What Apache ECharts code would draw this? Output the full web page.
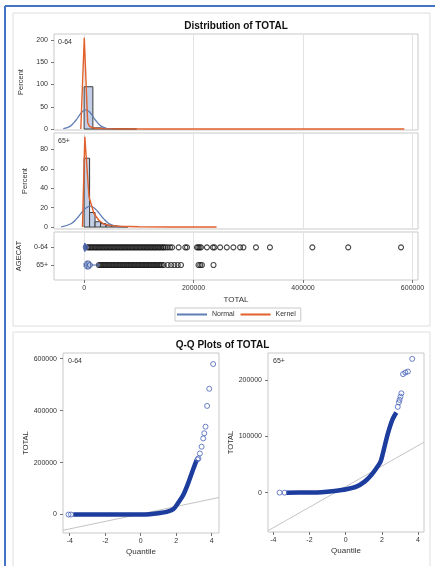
<!DOCTYPE html>
<html><head><meta charset="utf-8">
<script src="https://cdn.jsdelivr.net/npm/echarts@6/dist/echarts.min.js"></script>
<style>html,body{margin:0;padding:0;background:#fff;}#c{width:435px;height:566px;}</style>
</head><body><div id="c"></div>
<script>
// ---------- data ----------
const ageCats = ['0-64', '65+'];
const xTicksTotal = [0, 200000, 400000, 600000];
const yTicksPct064 = [0, 50, 100, 150, 200];
const yTicksPct65 = [0, 20, 40, 60, 80];
const qTicks = [-4, -2, 0, 2, 4];
const yTicksQQ064 = [0, 200000, 400000, 600000];
const yTicksQQ65 = [0, 100000, 200000];

// histogram (percent per bin)
const binEdges064 = [0, 16000, 32000, 48000, 64000, 80000, 96000];
const pct064 = [95, 2.6, 1.0, 0.5, 0.3, 0.2];
const binEdges65 = [0, 10000, 20000, 30000, 40000, 50000, 60000, 70000, 80000];
const pct65 = [71, 15, 5.5, 3.5, 2, 1.2, 0.7, 0.4];

// fitted normal curves (TOTAL, percent)
const normal064 = [[-38000,0.8],[-25000,6.5],[-15000,19.7],[-8000,32],[-3000,39.4],[3000,43],[9000,39.4],[14000,32],[21000,19.7],[31000,6.5],[42000,1.1],[52000,0.1]];
const normal65 = [[-42000,0.3],[-24000,3.4],[-14000,8.4],[-5000,14.6],[3000,19.5],[11000,21.5],[19000,19.5],[27000,14.6],[36000,8.4],[46000,3.4],[61000,0.5],[70000,0.1]];

// kernel density curves (TOTAL, percent)
const kernel064 = [[-6000,0],[300,205],[6500,14],[10000,6],[15000,3],[22000,1.6],[35000,0.8],[60000,0.4],[120000,0.2],[250000,0.1],[585000,0]];
const kernel65 = [[-3000,0],[1300,93],[9000,31],[18000,14],[27000,7],[36000,3],[50000,1.5],[65000,0.8],[100000,0.3],[160000,0.1],[242000,0]];

// box plot stats: [min, Q1, median, Q3, whisker max, mean]
const box064 = [0, 300, 1000, 2500, 5800, 2900];
const box65 = [0, 1500, 5000, 12000, 26000, 10600];

// outliers
const outliers064 = [6000,8500,11000,13500,16000,18500,21000,23500,26000,28500,31000,33500,36000,38500,41000,43500,46000,48500,51000,53500,56000,58500,61000,63500,66000,68500,71000,73500,76000,78500,81000,83500,86000,88500,91000,93500,96000,98500,101000,103500,106000,108500,111000,113500,116000,118500,121000,123500,126000,128500,131000,133500,136000,138500,141000,144000,145500,149000,152700,157000,160700,172700,184900,188000,206200,208500,211000,213500,224400,235300,238200,248500,260700,272700,285000,291000,314000,339500,417000,482500,579000];
const outliers65 = [27000,29500,32000,34500,37000,39500,42000,44500,47000,49500,52000,54500,57000,59500,62000,64500,67000,69500,72000,74500,77000,79500,82000,84500,87000,89500,92000,94500,97000,99500,102000,104500,107000,109500,112000,114500,117000,119500,122000,124500,127000,129500,132000,134500,137000,139500,142000,145500,152700,158900,164900,171000,177000,209100,212200,215200,236400];

// Q-Q plots: [normal quantile, TOTAL]
const qqDense064 = [[-3.8,0],[-2,0],[0,500],[0.5,1500],[1.0,5000],[1.46,10000],[1.83,20000],[2.11,45000],[2.4,76000],[2.68,122000],[2.96,175000],[3.15,210000]];
const qqSparse064 = [[-4.07,0],[-3.93,0],[3.2,212000],[3.25,216000],[3.33,235000],[3.43,261000],[3.52,293000],[3.58,312700],[3.65,338000],[3.74,418000],[3.86,484000],[4.08,579000]];
const qqRef064 = [[-4.38,-60600],[4.41,65600]];
const qqDense65 = [[-3.28,0],[-2,200],[-1.34,700],[-0.61,3000],[0.04,6000],[0.59,10600],[1.05,19500],[1.42,31400],[1.7,43300],[1.93,55000],[2.06,69900],[2.34,105300],[2.58,129000],[2.8,142000]];
const qqSparse65 = [[-3.65,0],[-3.37,0],[2.88,152000],[2.94,160000],[2.98,164400],[3.03,170000],[3.08,176000],[3.17,210000],[3.3,212800],[3.44,214500],[3.68,237000]];
const qqRef65 = [[-4.29,-67400],[4.33,89400]];

// ---------- styles ----------
const FONT = "'Liberation Sans', Arial, sans-serif";
const TXT = '#333';
const NORMAL_C = '#5f7db4';
const KERNEL_C = '#e2602c';
const BAR_FILL = '#c2cfe6';
const BAR_LINE = '#3b3b3b';
const QQ_DARK = '#1c3c9e';
const QQ_PT = '#4661b8';

const chart = echarts.init(document.getElementById('c'), null, {renderer: 'canvas'});

function histData(edges, pct) { return pct.map((p, i) => [edges[i], edges[i + 1], p]); }
function renderBar(params, api) {
  const p0 = api.coord([api.value(0), 0]);
  const p1 = api.coord([api.value(1), api.value(2)]);
  return {type: 'rect', shape: {x: p0[0], y: p1[1], width: p1[0] - p0[0], height: p0[1] - p1[1]},
    style: {fill: BAR_FILL, stroke: BAR_LINE, lineWidth: 1}};
}
function renderBox(params, api) {
  const c = api.value(0);
  const P = k => api.coord([api.value(k), c]);
  const pMin = P(1), pQ1 = P(2), pMed = P(3), pQ3 = P(4), pMax = P(5), pMean = P(6);
  const h = 4, st = {stroke: '#4a64a8', lineWidth: 1};
  return {type: 'group', children: [
    {type: 'line', shape: {x1: pMin[0], y1: pMin[1], x2: pQ1[0], y2: pQ1[1]}, style: st},
    {type: 'line', shape: {x1: pQ3[0], y1: pQ3[1], x2: pMax[0], y2: pMax[1]}, style: st},
    {type: 'line', shape: {x1: pMin[0], y1: pMin[1] - 2, x2: pMin[0], y2: pMin[1] + 2}, style: st},
    {type: 'line', shape: {x1: pMax[0], y1: pMax[1] - 2, x2: pMax[0], y2: pMax[1] + 2}, style: st},
    {type: 'rect', shape: {x: pQ1[0], y: pQ1[1] - h, width: Math.max(pQ3[0] - pQ1[0], 1), height: 2 * h, r: 2},
      style: {fill: '#b9c7e4', stroke: '#4a64a8', lineWidth: 1}},
    {type: 'line', shape: {x1: pMed[0], y1: pMed[1] - h, x2: pMed[0], y2: pMed[1] + h}, style: st},
    {type: 'circle', shape: {cx: pMean[0], cy: pMean[1], r: 2.5}, style: {fill: 'none', stroke: '#4a64a8', lineWidth: 1}}
  ]};
}

const lab = {fontSize: 7, color: TXT, fontFamily: FONT};
const tick = {show: true, length: 3, lineStyle: {color: '#777'}};
const noLine = {show: false, onZero: false};
const fmtNum = v => String(v);

function gridBox(l, t, w, h) {
  return {left: l, top: t, width: w, height: h, show: true, borderColor: '#c9c9c9', borderWidth: 1, backgroundColor: '#fff', containLabel: false};
}

const totalAxisBase = {type: 'value', min: -55000, max: 610000, axisLine: noLine,
  splitLine: {show: true, lineStyle: {color: '#e3e3e3', width: 1}}};

const option = {
  animation: false,
  textStyle: {fontFamily: FONT},
  grid: [
    gridBox(54, 34, 364, 96),
    gridBox(54, 133, 364, 96),
    gridBox(54, 232, 364, 48),
    gridBox(63, 353, 156, 180),
    gridBox(268, 353, 156, 179)
  ],
  xAxis: [
    Object.assign({}, totalAxisBase, {gridIndex: 0, axisLabel: {show: false, customValues: xTicksTotal}, axisTick: {show: false, customValues: xTicksTotal}}),
    Object.assign({}, totalAxisBase, {gridIndex: 1, axisLabel: {show: false, customValues: xTicksTotal}, axisTick: {show: false, customValues: xTicksTotal}}),
    Object.assign({}, totalAxisBase, {gridIndex: 2, axisLabel: Object.assign({customValues: xTicksTotal, margin: 5, formatter: fmtNum}, lab),
      axisTick: Object.assign({customValues: xTicksTotal}, tick),
      name: 'TOTAL', nameLocation: 'middle', nameGap: 16, nameTextStyle: {fontSize: 8, color: TXT, fontFamily: FONT}}),
    {type: 'value', gridIndex: 3, min: -4.38, max: 4.41, axisLine: noLine, splitLine: {show: false},
      axisLabel: Object.assign({customValues: qTicks, margin: 5, formatter: fmtNum}, lab), axisTick: Object.assign({customValues: qTicks}, tick),
      name: 'Quantile', nameLocation: 'middle', nameGap: 15, nameTextStyle: {fontSize: 8, color: TXT, fontFamily: FONT}},
    {type: 'value', gridIndex: 4, min: -4.29, max: 4.33, axisLine: noLine, splitLine: {show: false},
      axisLabel: Object.assign({customValues: qTicks, margin: 5, formatter: fmtNum}, lab), axisTick: Object.assign({customValues: qTicks}, tick),
      name: 'Quantile', nameLocation: 'middle', nameGap: 15, nameTextStyle: {fontSize: 8, color: TXT, fontFamily: FONT}}
  ],
  yAxis: [
    {type: 'value', gridIndex: 0, min: -2.2, max: 213.5, axisLine: noLine, splitLine: {show: false},
      axisLabel: Object.assign({customValues: yTicksPct064, margin: 6, formatter: fmtNum}, lab), axisTick: Object.assign({customValues: yTicksPct064}, tick),
      name: 'Percent', nameLocation: 'middle', nameGap: 24, nameTextStyle: {fontSize: 7.5, color: TXT, fontFamily: FONT}},
    {type: 'value', gridIndex: 1, min: -2, max: 97, axisLine: noLine, splitLine: {show: false},
      axisLabel: Object.assign({customValues: yTicksPct65, margin: 6, formatter: fmtNum}, lab), axisTick: Object.assign({customValues: yTicksPct65}, tick),
      name: 'Percent', nameLocation: 'middle', nameGap: 24, nameTextStyle: {fontSize: 7.5, color: TXT, fontFamily: FONT}},
    {type: 'value', gridIndex: 2, inverse: true, min: -0.87, max: 1.85, axisLine: noLine, splitLine: {show: false},
      axisLabel: Object.assign({customValues: [0, 1], margin: 6, formatter: v => ageCats[Math.round(v)]}, lab), axisTick: Object.assign({customValues: [0, 1]}, tick),
      name: 'AGECAT', nameLocation: 'middle', nameGap: 24, nameTextStyle: {fontSize: 7.5, color: TXT, fontFamily: FONT}},
    {type: 'value', gridIndex: 3, min: -71000, max: 621600, axisLine: noLine, splitLine: {show: false},
      axisLabel: Object.assign({customValues: yTicksQQ064, margin: 6, formatter: fmtNum}, lab), axisTick: Object.assign({customValues: yTicksQQ064}, tick),
      name: 'TOTAL', nameLocation: 'middle', nameGap: 33, nameTextStyle: {fontSize: 7.5, color: TXT, fontFamily: FONT}},
    {type: 'value', gridIndex: 4, min: -69700, max: 247400, axisLine: noLine, splitLine: {show: false},
      axisLabel: Object.assign({customValues: yTicksQQ65, margin: 6, formatter: fmtNum}, lab), axisTick: Object.assign({customValues: yTicksQQ65}, tick),
      name: 'TOTAL', nameLocation: 'middle', nameGap: 33, nameTextStyle: {fontSize: 7.5, color: TXT, fontFamily: FONT}}
  ],
  legend: {
    data: ['Normal', 'Kernel'], left: 175, top: 308, icon: 'rect', itemWidth: 30, itemHeight: 2, itemGap: 6,
    padding: [3, 5, 3, 2], borderColor: '#c9c9c9', borderWidth: 1, backgroundColor: '#fff',
    textStyle: {fontSize: 7, color: TXT, fontFamily: FONT}
  },
  graphic: [
    {type: 'rect', shape: {x: 13, y: 13, width: 417, height: 313}, style: {fill: 'none', stroke: '#dedede', lineWidth: 1}, z: -1, silent: true},
    {type: 'rect', shape: {x: 13, y: 332, width: 417, height: 240}, style: {fill: 'none', stroke: '#dedede', lineWidth: 1}, z: -1, silent: true},
    {type: 'line', shape: {x1: 5, y1: 6, x2: 435, y2: 6}, style: {stroke: '#4472c4', lineWidth: 2}, silent: true},
    {type: 'line', shape: {x1: 5, y1: 6, x2: 5, y2: 566}, style: {stroke: '#4472c4', lineWidth: 2}, silent: true},
    {type: 'text', x: 236, y: 26, style: {text: 'Distribution of TOTAL', fontSize: 10, fontWeight: 'bold', fill: '#111', fontFamily: FONT, align: 'center', verticalAlign: 'middle'}},
    {type: 'text', x: 222.5, y: 345, style: {text: 'Q-Q Plots of TOTAL', fontSize: 10, fontWeight: 'bold', fill: '#111', fontFamily: FONT, align: 'center', verticalAlign: 'middle'}},
    {type: 'text', x: 58, y: 42, z: 10, style: {text: ageCats[0], fontSize: 7, fill: TXT, fontFamily: FONT, verticalAlign: 'middle'}},
    {type: 'text', x: 58, y: 141, z: 10, style: {text: ageCats[1], fontSize: 7, fill: TXT, fontFamily: FONT, verticalAlign: 'middle'}},
    {type: 'text', x: 68, y: 361, z: 10, style: {text: ageCats[0], fontSize: 7, fill: TXT, fontFamily: FONT, verticalAlign: 'middle'}},
    {type: 'text', x: 273, y: 361, z: 10, style: {text: ageCats[1], fontSize: 7, fill: TXT, fontFamily: FONT, verticalAlign: 'middle'}}
  ],
  series: [
    {type: 'custom', name: 'hist064', xAxisIndex: 0, yAxisIndex: 0, renderItem: renderBar, encode: {x: [0, 1], y: 2}, data: histData(binEdges064, pct064), clip: true, z: 2},
    {type: 'line', name: 'Normal', xAxisIndex: 0, yAxisIndex: 0, data: normal064, smooth: 0.4, symbol: 'none', lineStyle: {color: NORMAL_C, width: 1.3}, itemStyle: {color: NORMAL_C}, z: 3},
    {type: 'line', name: 'Kernel', xAxisIndex: 0, yAxisIndex: 0, data: kernel064, smooth: false, symbol: 'none', lineStyle: {color: KERNEL_C, width: 1.4}, itemStyle: {color: KERNEL_C}, z: 4},
    {type: 'custom', name: 'hist65', xAxisIndex: 1, yAxisIndex: 1, renderItem: renderBar, encode: {x: [0, 1], y: 2}, data: histData(binEdges65, pct65), clip: true, z: 2},
    {type: 'line', name: 'Normal', xAxisIndex: 1, yAxisIndex: 1, data: normal65, smooth: 0.4, symbol: 'none', lineStyle: {color: NORMAL_C, width: 1.3}, itemStyle: {color: NORMAL_C}, z: 3},
    {type: 'line', name: 'Kernel', xAxisIndex: 1, yAxisIndex: 1, data: kernel65, smooth: false, symbol: 'none', lineStyle: {color: KERNEL_C, width: 1.4}, itemStyle: {color: KERNEL_C}, z: 4},
    {type: 'scatter', name: 'out064', xAxisIndex: 2, yAxisIndex: 2, data: outliers064.map(v => [v, 0]), symbol: 'circle', symbolSize: 5,
      itemStyle: {color: 'rgba(0,0,0,0)', borderColor: '#1a1a1a', borderWidth: 1.1}, z: 2},
    {type: 'scatter', name: 'out65', xAxisIndex: 2, yAxisIndex: 2, data: outliers65.map(v => [v, 1]), symbol: 'circle', symbolSize: 5,
      itemStyle: {color: 'rgba(0,0,0,0)', borderColor: '#1a1a1a', borderWidth: 1.1}, z: 2},
    {type: 'custom', name: 'box', xAxisIndex: 2, yAxisIndex: 2, renderItem: renderBox, encode: {x: [1, 2, 3, 4, 5, 6], y: 0},
      data: [[0].concat(box064), [1].concat(box65)], z: 3},
    {type: 'line', name: 'ref064', xAxisIndex: 3, yAxisIndex: 3, data: qqRef064, symbol: 'none', lineStyle: {color: '#c4c4c4', width: 1}, z: 1},
    {type: 'line', name: 'qq064', xAxisIndex: 3, yAxisIndex: 3, data: qqDense064, smooth: 0.3, symbol: 'none', lineStyle: {color: QQ_DARK, width: 4.5}, z: 2},
    {type: 'scatter', name: 'qqpt064', xAxisIndex: 3, yAxisIndex: 3, data: qqSparse064, symbol: 'circle', symbolSize: 5,
      itemStyle: {color: 'rgba(0,0,0,0)', borderColor: QQ_PT, borderWidth: 1}, z: 3},
    {type: 'line', name: 'ref65', xAxisIndex: 4, yAxisIndex: 4, data: qqRef65, symbol: 'none', lineStyle: {color: '#c4c4c4', width: 1}, z: 1},
    {type: 'line', name: 'qq65', xAxisIndex: 4, yAxisIndex: 4, data: qqDense65, smooth: 0.3, symbol: 'none', lineStyle: {color: QQ_DARK, width: 4.5}, z: 2},
    {type: 'scatter', name: 'qqpt65', xAxisIndex: 4, yAxisIndex: 4, data: qqSparse65, symbol: 'circle', symbolSize: 5,
      itemStyle: {color: 'rgba(0,0,0,0)', borderColor: QQ_PT, borderWidth: 1}, z: 3}
  ]
};
chart.setOption(option);
</script></body></html>
